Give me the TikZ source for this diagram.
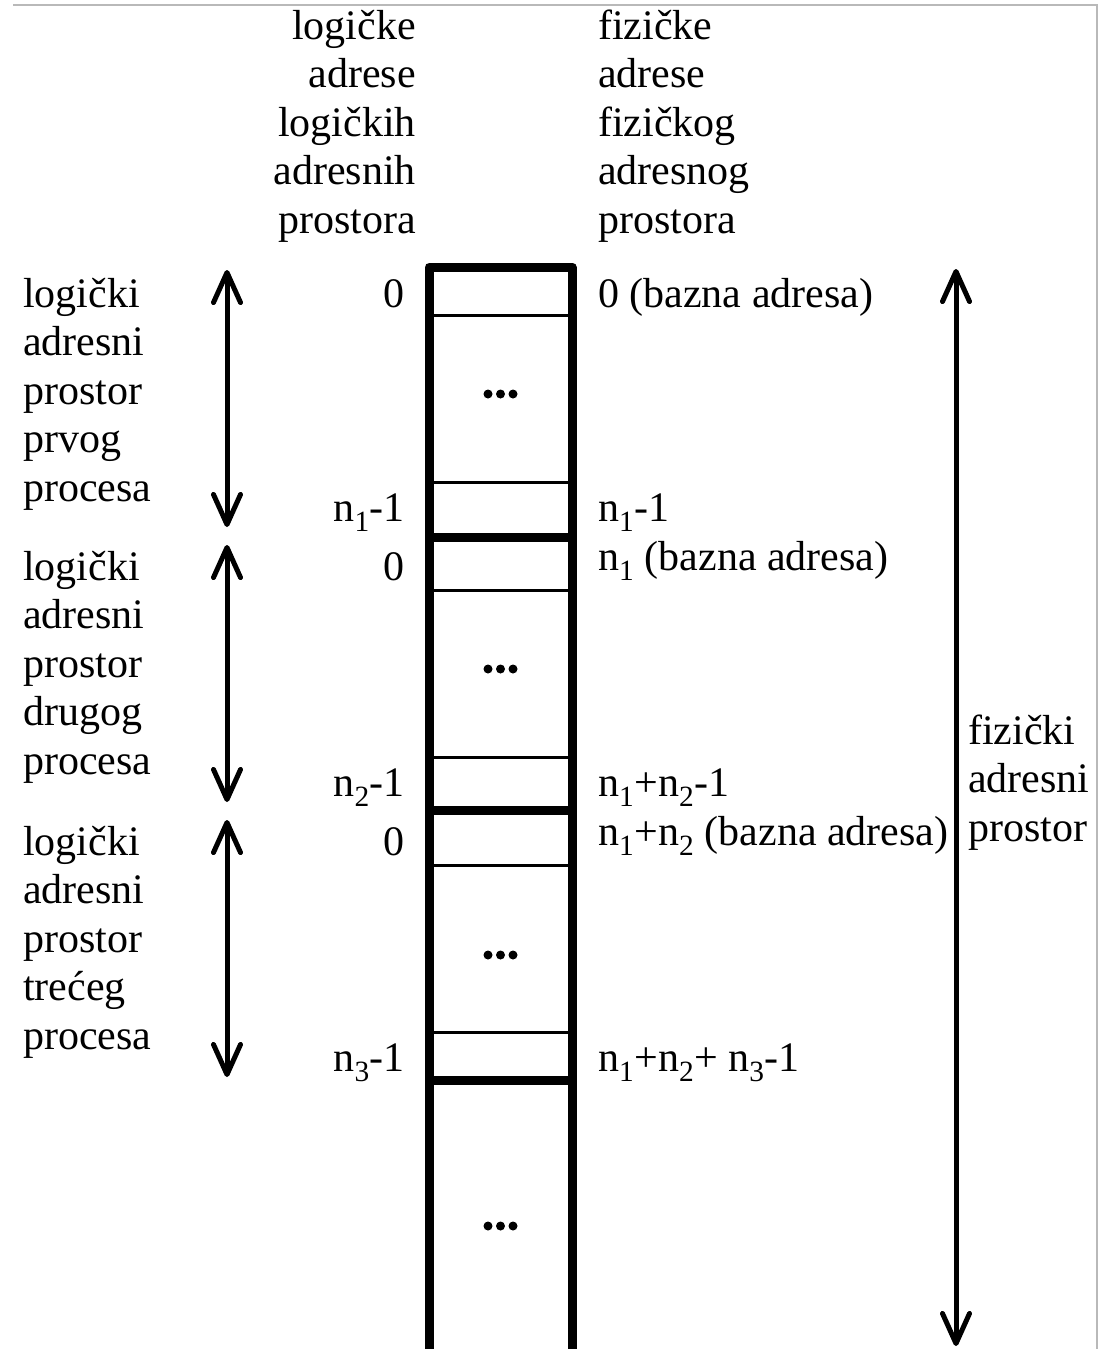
\documentclass[tikz,border=0pt]{standalone}
\usepackage{fontspec}
\setmainfont{Liberation Serif}
\usetikzlibrary{arrows.meta}

\begin{document}
\begin{tikzpicture}[x=1pt,y=-1pt,
  lbl/.style={inner sep=0pt,font=\fontsize{42}{48.5}\selectfont},
  lft/.style={lbl,anchor=base east},
  rgt/.style={lbl,anchor=base west},
  cellsep/.style={line width=3pt},
  blocksep/.style={line width=9pt},
  barb/.tip={Straight Barb[length=30pt,width=27pt,line cap=round,line join=round]},
  span/.style={line width=5pt,barb-barb}]

  \useasboundingbox (0,0) rectangle (1107,1349);
  \clip (0,0) rectangle (1107,1349);

  % frame of the page
  \draw[gray!55,line width=1.5pt] (13,5) -- (1097,5) -- (1097,1352);

  % headers above the memory
  \foreach \t [count=\i] in {logičke,adrese,logičkih,adresnih,prostora}
    \node[lft] (lh-\i) at (416,{39+48.5*(\i-1)}) {\t};
  \foreach \t [count=\i] in {fizičke,adrese,fizičkog,adresnog,prostora}
    \node[rgt] (ph-\i) at (598,{39+48.5*(\i-1)}) {\t};

  % the memory column
  \draw[blocksep,line join=round] (429,1365) -- (429,267) -- (572,267) -- (572,1365);
  \foreach \y in {537,810,1080}
    \draw[blocksep] (429,\y) -- (572,\y);
  \foreach \y in {315,482,590,757,865,1032}
    \draw[cellsep] (429,\y) -- (572,\y);
  \foreach \y in {394,669,955,1226}
    \foreach \x in {488,500.5,513}
      \fill (\x,\y) circle (4.5);

  % logical addresses
  \node[lft] (la-1) at (405,307) {0};
  \node[lft] (la-2) at (405,521) {n\textsubscript{1}-1};
  \node[lft] (la-3) at (405,580) {0};
  \node[lft] (la-4) at (405,796) {n\textsubscript{2}-1};
  \node[lft] (la-5) at (405,855) {0};
  \node[lft] (la-6) at (405,1071) {n\textsubscript{3}-1};

  % physical addresses
  \node[rgt] (pa-1) at (598,307) {0 (bazna adresa)};
  \node[rgt] (pa-2) at (598,521) {n\textsubscript{1}-1};
  \node[rgt] (pa-3) at (598,570) {n\textsubscript{1} (bazna adresa)};
  \node[rgt] (pa-4) at (598,796) {n\textsubscript{1}+n\textsubscript{2}-1};
  \node[rgt] (pa-5) at (598,845) {n\textsubscript{1}+n\textsubscript{2} (bazna adresa)};
  \node[rgt] (pa-6) at (598,1071) {n\textsubscript{1}+n\textsubscript{2}+ n\textsubscript{3}-1};

  % process address spaces on the left
  \foreach \p/\y [count=\j] in {prvog/307,drugog/580,trećeg/855}
    \foreach \t [count=\i] in {logički,adresni,prostor,\p,procesa}
      \node[rgt] (pl-\j-\i) at (23,{\y+48.5*(\i-1)}) {\t};

  \coordinate (s1a) at (227,270);
  \coordinate (s1b) at (227,527);
  \coordinate (s2a) at (227,545);
  \coordinate (s2b) at (227,802);
  \coordinate (s3a) at (227,820);
  \coordinate (s3b) at (227,1077);
  \draw[span] (s1a) -- (s1b);
  \draw[span] (s2a) -- (s2b);
  \draw[span] (s3a) -- (s3b);

  % whole physical space on the right
  \coordinate (fa) at (956,269);
  \coordinate (fb) at (956,1346);
  \draw[span] (fa) -- (fb);
  \foreach \t [count=\i] in {fizički,adresni,prostor}
    \node[rgt] (fl-\i) at (968,{744+48.5*(\i-1)}) {\t};

\end{tikzpicture}
\end{document}
